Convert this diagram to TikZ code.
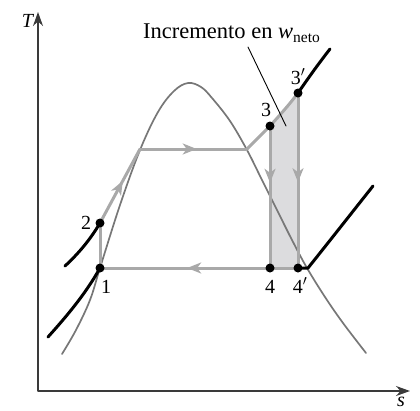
\documentclass[tikz,border=0pt]{standalone}
\usepackage{fontspec}
\setmainfont{Liberation Serif}
\usetikzlibrary{arrows.meta,decorations.markings}

\definecolor{cgris}{HTML}{A9A9A9}
\definecolor{cdomo}{HTML}{777777}
\definecolor{carea}{HTML}{DCDCDE}
\definecolor{ceje}{HTML}{3A3A3A}

\begin{document}
\begin{tikzpicture}[x=1pt, y=-1pt, line cap=round, line join=round,
    ciclo/.style={draw=cgris, line width=3pt},
    isobara/.style={draw=black, line width=3pt},
    domo/.style={draw=cdomo, line width=1.7pt},
    flecha/.style={postaction={decorate}, decoration={markings,
        mark=at position #1 with {\arrow[color=cgris]{Stealth[length=14pt, width=11pt, inset=4pt]}}}},
    punto/.style={fill=black},
    rotulo/.style={inner sep=0pt, font=\fontsize{20}{24}\selectfont}]

  % ── puntos de estado ──
  \coordinate (p1)  at (100,268);
  \coordinate (p2)  at (100,223);
  \coordinate (pf)  at (140,149);
  \coordinate (pg)  at (247,149);
  \coordinate (p3)  at (270,126);
  \coordinate (p3p) at (298,93);
  \coordinate (p4)  at (270,268);
  \coordinate (p4p) at (298,268);
  \coordinate (pv)  at (308,268);

  % ── área sombreada (incremento del trabajo neto) ──
  \fill[carea] (p3) .. controls (279,116) and (289,105) .. (p3p) -- (p4p) -- (p4) -- cycle;

  % ── ejes ──
  \draw[ceje, line width=1.4pt, {Stealth[length=14pt, width=10pt]}-{Stealth[length=14pt, width=10pt]}]
        (38,12) -- (38,391) -- (410,391);
  \node[anchor=base, inner sep=0pt, font=\fontsize{20}{24}\selectfont] (ejeT) at (28,27) {\textit{T}};
  \node[anchor=base, inner sep=0pt, font=\fontsize{20}{24}\selectfont] (ejes) at (401,406) {\textit{s}};

  % ── campana de saturación ──
  \draw[domo] plot[smooth, tension=0.6] coordinates {
      (62,354) (76,330) (90,300) (100,268) (120,205) (140,150) (158,112)
      (174,91) (188,83) (201,87) (212,98) (230,121) (247,150) (262,180)
      (277,210) (292,240) (307,268) (325,297) (343,323) (366,353)};

  % ── isobaras ──
  \draw[isobara] (48,337) .. controls (65,318) and (85,295) .. (p1);
  \draw[isobara] (65,266) .. controls (78,254) and (90,240) .. (p2);
  \draw[isobara] (p4p) -- (pv) .. controls (328,243) and (350,215) .. (373,186);
  \draw[isobara] (p3p) .. controls (309,77) and (319,63) .. (330,49);

  % ── ciclo ──
  \draw[ciclo] (p1) -- (p2);
  \draw[ciclo, flecha=0.57] (p2) -- (pf);
  \draw[ciclo, flecha=0.53] (pf) -- (pg);
  \draw[ciclo] (pg) .. controls (255,141) and (262,134) .. (p3)
                    .. controls (279,116) and (289,105) .. (p3p);
  \draw[ciclo, flecha=0.4] (p3) -- (p4);
  \draw[ciclo, flecha=0.51] (p3p) -- (p4p);
  \draw[ciclo, flecha=0.56] (p4p) -- (p1);

  % ── puntos ──
  \foreach \p in {p1, p2, p3, p3p, p4, p4p}
     \fill[punto] (\p) circle (4.5);

  % ── rótulos ──
  \node[rotulo, anchor=base] (r1)  at (106,293) {1};
  \node[rotulo, anchor=base] (r2)  at (86,229)  {2};
  \node[rotulo, anchor=base] (r3)  at (266,116) {3};
  \node[rotulo, anchor=base] (r3p) at (298,84)  {3$'$};
  \node[rotulo, anchor=base] (r4)  at (270,293) {4};
  \node[rotulo, anchor=base] (r4p) at (300,293) {4$'$};

  % ── leyenda con línea guía ──
  \node[inner sep=0pt, font=\fontsize{22.5}{26}\selectfont, anchor=base west] (incr) at (143,38)
       {Incremento en \textit{w}\raisebox{-0.2em}{\fontsize{15.5}{18}\selectfont neto}};
  \coordinate (guia) at (286,126);
  \draw[line width=0.9pt] (248,47) -- (guia);

  \path[use as bounding box] (0,0) rectangle (420,410);
\end{tikzpicture}
\end{document}
